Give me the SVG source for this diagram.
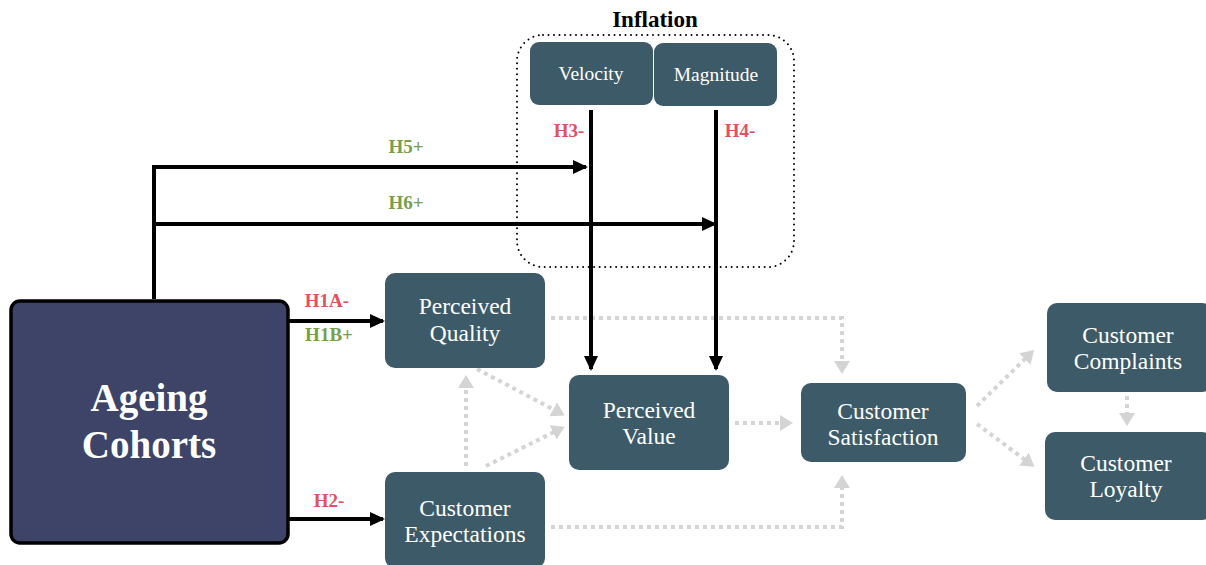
<svg xmlns="http://www.w3.org/2000/svg" width="1206" height="565" viewBox="0 0 1206 565">
<style>
text{font-family:"Liberation Serif","Tinos","DejaVu Serif","Noto Serif",serif;}
.node{fill:#3d5a68;}
.lbl{fill:#fff;text-anchor:middle;font-size:23.5px;}
.small{font-size:19.5px;}
.big{fill:#fff;text-anchor:middle;font-size:39px;font-weight:bold;}
.h{font-weight:bold;font-size:19px;text-anchor:middle;}
.neg{fill:#e0525f;}
.pos{fill:#76a04c;}
.blk{stroke:#000;stroke-width:4;fill:none;marker-end:url(#ab);}
.gry{stroke:#d4d4d4;stroke-width:4;fill:none;stroke-dasharray:4 4;marker-end:url(#ag);}
</style>
<defs>
<marker id="ab" markerUnits="userSpaceOnUse" markerWidth="16" markerHeight="16" refX="13" refY="7" orient="auto"><path d="M0,0 L15,7 L0,14 z" fill="#000"/></marker>
<marker id="ag" markerUnits="userSpaceOnUse" markerWidth="16" markerHeight="16" refX="10" refY="8" orient="auto"><path d="M0,0 L13,8 L0,16 z" fill="#d4d4d4"/></marker>
</defs>
<rect width="1206" height="565" fill="#fff"/>

<g id="inflation">
<rect x="517" y="35" width="277" height="232" rx="26" fill="none" stroke="#000" stroke-width="2" stroke-dasharray="0 5.5" stroke-linecap="round"/>
<text x="655" y="27" text-anchor="middle" font-weight="bold" font-size="23">Inflation</text>
</g>

<g id="connectors">
<path class="gry" d="M551,318 H842 V371"/>
<path class="gry" d="M551,527 H842 V478"/>
<path class="gry" d="M735,423 H790"/>
<path class="gry" d="M477,369 L562,414"/>
<path class="gry" d="M486,466 L562,428"/>
<path class="gry" d="M466,466 V378"/>
<path class="gry" d="M977,406 L1032,352"/>
<path class="gry" d="M977,424 L1032,465"/>
<path class="gry" d="M1127,396 V423"/>

<path class="blk" d="M591,110 V369"/>
<path class="blk" d="M716,110 V369"/>
<path d="M154,299 V167" stroke="#000" stroke-width="4" fill="none"/>
<path class="blk" d="M152,167 H586"/>
<path class="blk" d="M152,224 H715"/>
<path class="blk" d="M288,321 H383"/>
<path class="blk" d="M288,519 H383"/>
<text class="h pos" x="406" y="153">H5+</text>
<text class="h pos" x="406" y="209">H6+</text>
<text class="h neg" x="569" y="137">H3-</text>
<text class="h neg" x="740" y="137">H4-</text>
<text class="h neg" x="327" y="307">H1A-</text>
<text class="h pos" x="329" y="341">H1B+</text>
<text class="h neg" x="329" y="507">H2-</text>
</g>

<g id="velocity">
<rect class="node" x="530" y="42" width="123" height="63" rx="9"/>
<text class="lbl small" x="591" y="80">Velocity</text>
</g>
<g id="magnitude">
<rect class="node" x="654" y="43" width="123" height="63" rx="9"/>
<text class="lbl small" x="716" y="81">Magnitude</text>
</g>

<g id="ageing">
<rect x="11" y="301" width="277" height="242" rx="9" fill="#3d4468" stroke="#000" stroke-width="3.5"/>
<text class="big" x="149" y="411">Ageing</text>
<text class="big" x="149" y="458">Cohorts</text>
</g>

<g id="pq">
<rect class="node" x="385" y="273" width="160" height="95" rx="10"/>
<text class="lbl" x="465" y="314">Perceived</text>
<text class="lbl" x="465" y="341">Quality</text>
</g>
<g id="ce">
<rect class="node" x="385" y="472" width="160" height="96" rx="10"/>
<text class="lbl" x="465" y="516">Customer</text>
<text class="lbl" x="465" y="542">Expectations</text>
</g>
<g id="pv">
<rect class="node" x="569" y="375" width="160" height="95" rx="10"/>
<text class="lbl" x="649" y="418">Perceived</text>
<text class="lbl" x="649" y="444">Value</text>
</g>
<g id="cs">
<rect class="node" x="801" y="383" width="165" height="79" rx="10"/>
<text class="lbl" x="883" y="419">Customer</text>
<text class="lbl" x="883" y="445">Satisfaction</text>
</g>
<g id="cc">
<rect class="node" x="1047" y="303" width="165" height="89" rx="10"/>
<text class="lbl" x="1128" y="343">Customer</text>
<text class="lbl" x="1128" y="369">Complaints</text>
</g>
<g id="cl">
<rect class="node" x="1045" y="432" width="167" height="88" rx="10"/>
<text class="lbl" x="1126" y="471">Customer</text>
<text class="lbl" x="1126" y="497">Loyalty</text>
</g>
</svg>
